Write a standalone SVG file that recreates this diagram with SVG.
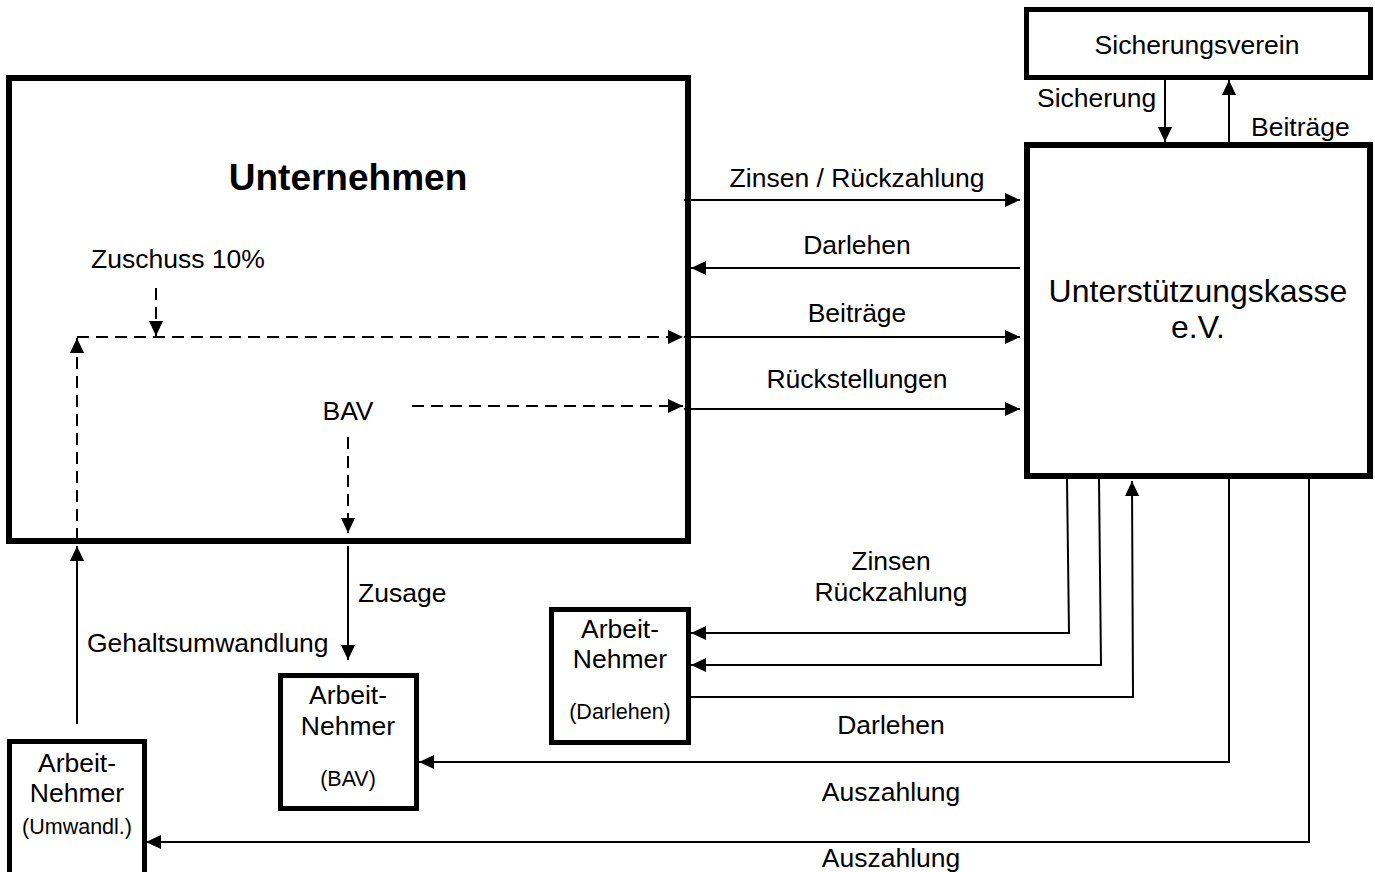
<svg xmlns="http://www.w3.org/2000/svg" width="1375" height="872" viewBox="0 0 1375 872">
<style>
text{font-family:"Liberation Sans",Arial,sans-serif;fill:#000}
.lbl{font-size:26.5px}
.sm{font-size:21.5px}
.box{fill:#fff;stroke:#000}
.ln{fill:none;stroke:#000;stroke-width:2}
.dash{fill:none;stroke:#000;stroke-width:2;stroke-dasharray:12 7}
</style>
<defs>
<marker id="ah" markerUnits="userSpaceOnUse" markerWidth="15" markerHeight="14" refX="15" refY="7" orient="auto">
<path d="M0,0 L15,7 L0,14 z" fill="#000"/>
</marker>
</defs>
<g id="unternehmen">
<rect class="box" x="9" y="78" width="679" height="463" stroke-width="6"/>
<text x="348" y="190" font-size="37" font-weight="bold" text-anchor="middle">Unternehmen</text>
<text class="lbl" x="178" y="268" text-anchor="middle">Zuschuss 10%</text>
<text class="lbl" x="348" y="420" text-anchor="middle">BAV</text>
</g>
<g id="sicherungsverein">
<rect class="box" x="1026.5" y="9.5" width="344" height="68" stroke-width="5"/>
<text class="lbl" x="1197" y="54" text-anchor="middle">Sicherungsverein</text>
</g>
<g id="unterstuetzungskasse">
<rect class="box" x="1027" y="145" width="343" height="331" stroke-width="6"/>
<text x="1198" y="302" font-size="32" text-anchor="middle">Unterstützungskasse</text>
<text x="1198" y="338" font-size="32" text-anchor="middle">e.V.</text>
</g>
<g id="an-bav">
<rect class="box" x="280.5" y="675.5" width="136" height="133" stroke-width="5"/>
<text class="lbl" x="348" y="704" text-anchor="middle">Arbeit-</text>
<text class="lbl" x="348" y="735" text-anchor="middle">Nehmer</text>
<text class="sm" x="348" y="786" text-anchor="middle">(BAV)</text>
</g>
<g id="an-darlehen">
<rect class="box" x="551.5" y="609.5" width="137" height="133" stroke-width="5"/>
<text class="lbl" x="620" y="638" text-anchor="middle">Arbeit-</text>
<text class="lbl" x="620" y="668" text-anchor="middle">Nehmer</text>
<text class="sm" x="620" y="719" text-anchor="middle">(Darlehen)</text>
</g>
<g id="an-umwandl">
<path d="M9.5,880 V741.5 H144.5 V880" fill="#fff" stroke="#000" stroke-width="5"/>
<text class="lbl" x="77" y="772" text-anchor="middle">Arbeit-</text>
<text class="lbl" x="77" y="802" text-anchor="middle">Nehmer</text>
<text class="sm" x="77" y="834" text-anchor="middle">(Umwandl.)</text>
</g>
<g id="connectors">
<path class="dash" d="M77,540 V338" marker-end="url(#ah)"/>
<path class="dash" d="M77,337 H683" marker-end="url(#ah)"/>
<path class="dash" d="M156,288 V336" marker-end="url(#ah)"/>
<path class="dash" d="M412,406 H683" marker-end="url(#ah)"/>
<path class="dash" d="M348,437 V533" marker-end="url(#ah)"/>
<path class="ln" d="M684,200 H1020" marker-end="url(#ah)"/>
<path class="ln" d="M1020,268 H691" marker-end="url(#ah)"/>
<path class="ln" d="M684,337 H1020" marker-end="url(#ah)"/>
<path class="ln" d="M684,409 H1020" marker-end="url(#ah)"/>
<text class="lbl" x="857" y="187" text-anchor="middle">Zinsen / Rückzahlung</text>
<text class="lbl" x="857" y="254" text-anchor="middle">Darlehen</text>
<text class="lbl" x="857" y="322" text-anchor="middle">Beiträge</text>
<text class="lbl" x="857" y="388" text-anchor="middle">Rückstellungen</text>
<path class="ln" d="M1165,80 V142" marker-end="url(#ah)"/>
<path class="ln" d="M1229,142 V80" marker-end="url(#ah)"/>
<text class="lbl" x="1037" y="107">Sicherung</text>
<text class="lbl" x="1251" y="136">Beiträge</text>
<path class="ln" d="M348,546 V660" marker-end="url(#ah)"/>
<text class="lbl" x="358" y="602">Zusage</text>
<path class="ln" d="M77,724 V546" marker-end="url(#ah)"/>
<text class="lbl" x="87" y="652">Gehaltsumwandlung</text>
<path class="ln" d="M1067,479 L1069,633 H691" marker-end="url(#ah)"/>
<path class="ln" d="M1099,479 L1101,665 H691" marker-end="url(#ah)"/>
<path class="ln" d="M691,697 H1133 L1132,481" marker-end="url(#ah)"/>
<path class="ln" d="M1229,479 V762 H419" marker-end="url(#ah)"/>
<path class="ln" d="M1309,479 V842 H146" marker-end="url(#ah)"/>
<text class="lbl" x="891" y="570" text-anchor="middle">Zinsen</text>
<text class="lbl" x="891" y="601" text-anchor="middle">Rückzahlung</text>
<text class="lbl" x="891" y="734" text-anchor="middle">Darlehen</text>
<text class="lbl" x="891" y="801" text-anchor="middle">Auszahlung</text>
<text class="lbl" x="891" y="867" text-anchor="middle">Auszahlung</text>
</g>
</svg>
